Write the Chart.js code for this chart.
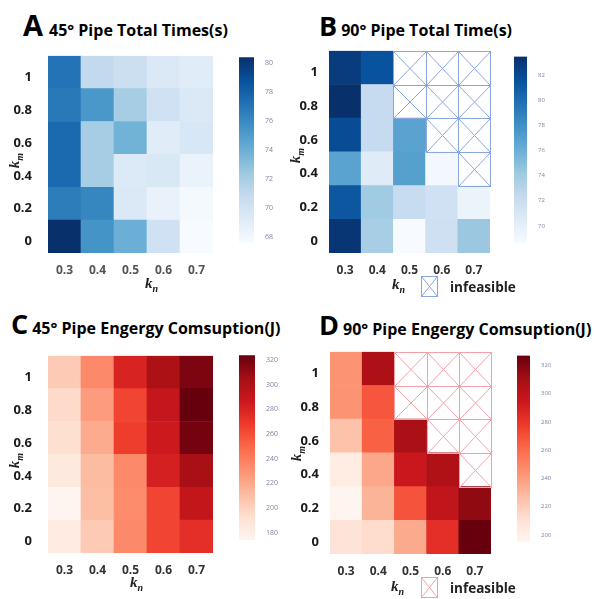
<!DOCTYPE html>
<html>
<head>
<meta charset="utf-8">
<script src="https://cdn.jsdelivr.net/npm/chart.js@4.4.0/dist/chart.umd.min.js"></script>
<style>
  body { margin: 0; background: #fff; width: 595px; height: 599px; position: relative; overflow: hidden; font-family: "Open Sans", sans-serif; }
  canvas, .t, .ax, .leg { position: absolute; }
  .t { font-weight: bold; color: #000; white-space: nowrap; line-height: 1; }
  .t .big { font-size: 27px; }
  .t .sm { font-size: 16px; margin-left: 4px; }
  .ax { font-family: "Liberation Serif", serif; font-style: italic; font-weight: bold; font-size: 15px; color: #222; white-space: nowrap; }
  .ax sub { font-size: 10px; }
  .rot { transform: rotate(-90deg); transform-origin: center; }
  .leg { font-weight: bold; font-size: 13.5px; color: #222; display: flex; align-items: center; white-space: nowrap; }
  .leg svg { margin-right: 12px; }
</style>
</head>
<body>

<div class="t" style="left:23px;top:10px"><span class="big" style="font-size:29px">A</span><span class="sm" style="margin-left:6px">45° Pipe Total Times(s)</span></div>
<div class="t" style="left:319px;top:12px"><span class="big">B</span><span class="sm">90° Pipe Total Time(s)</span></div>
<div class="t" style="left:11px;top:310px"><span class="big">C</span><span class="sm">45° Pipe Engergy Comsuption(J)</span></div>
<div class="t" style="left:319px;top:311px"><span class="big">D</span><span class="sm">90° Pipe Engergy Comsuption(J)</span></div>

<canvas id="heatA" width="215" height="240" style="left:0;top:40px"></canvas>
<canvas id="barA" width="40" height="200" style="left:239px;top:50px"></canvas>
<canvas id="heatB" width="211" height="240" style="left:281px;top:40px"></canvas>
<canvas id="barB" width="36" height="200" style="left:514px;top:50px"></canvas>
<canvas id="heatC" width="215" height="240" style="left:0;top:340px"></canvas>
<canvas id="barC" width="40" height="200" style="left:239px;top:348px"></canvas>
<canvas id="heatD" width="211" height="240" style="left:282px;top:341px"></canvas>
<canvas id="barD" width="36" height="200" style="left:517px;top:349px"></canvas>

<div class="ax rot" style="left:8px;top:151px"><i>k</i><sub>m</sub></div>
<div class="ax rot" style="left:289px;top:146px"><i>k</i><sub>m</sub></div>
<div class="ax rot" style="left:8px;top:451px"><i>k</i><sub>m</sub></div>
<div class="ax rot" style="left:290px;top:444px"><i>k</i><sub>m</sub></div>

<div class="ax" style="left:145px;top:275px"><i>k</i><sub>n</sub></div>
<div class="ax" style="left:130px;top:574px"><i>k</i><sub>n</sub></div>
<div class="ax" style="left:392px;top:276px"><i>k</i><sub>n</sub></div>
<div class="ax" style="left:391px;top:578px"><i>k</i><sub>n</sub></div>

<div class="leg" style="left:421px;top:276px">
  <svg width="17" height="21"><g stroke="#8aa6e0" stroke-width="1" fill="none"><rect x="0.5" y="0.5" width="16" height="20"/><line x1="0.5" y1="0.5" x2="16.5" y2="20.5"/><line x1="16.5" y1="0.5" x2="0.5" y2="20.5"/></g></svg>infeasible
</div>
<div class="leg" style="left:421px;top:577px">
  <svg width="17" height="21"><g stroke="#f4a0a8" stroke-width="1" fill="none"><rect x="0.5" y="0.5" width="16" height="20"/><line x1="0.5" y1="0.5" x2="16.5" y2="20.5"/><line x1="16.5" y1="0.5" x2="0.5" y2="20.5"/></g></svg>infeasible
</div>

<script>
// grid values
const kn = [0.3, 0.4, 0.5, 0.6, 0.7];
const km = [0, 0.2, 0.4, 0.6, 0.8, 1];

// rows follow km (0 at the bottom), columns follow kn; null = infeasible
const timeA = [
  [80.4, 75.5, 74.0, 70.2, 67.6],
  [76.6, 76.2, 69.4, 68.5, 67.8],
  [77.6, 72.1, 69.3, 69.5, 68.4],
  [77.6, 72.1, 73.8, 69.1, 69.6],
  [76.8, 75.3, 72.1, 70.2, 69.4],
  [77.1, 70.9, 70.4, 69.4, 69.1]
];
const timeB = [
  [83.2, 73.7, 68.6, 71.7, 74.3],
  [81.3, 74.1, 72.2, 71.6, 69.5],
  [76.8, 70.4, 77.0, 69.0, null],
  [81.9, 72.3, 76.8, null, null],
  [83.5, 72.3, null, null, null],
  [82.8, 81.6, null, null, null]
];
const energyC = [
  [183, 204, 234, 264, 274],
  [174, 210, 233, 264, 291],
  [185, 211, 234, 282, 304],
  [193, 219, 267, 286, 320],
  [196, 226, 264, 290, 324],
  [204, 234, 280, 302, 318]
];
const energyD = [
  [208, 213, 235, 283, 327],
  [195, 231, 269, 299, 316],
  [202, 236, 295, 306, null],
  [225, 264, 308, null, null],
  [244, 268, null, null, null],
  [244, 307, null, null, null]
];

// colorbar tick labels
const ticksA = [68, 70, 72, 74, 76, 78, 80];
const ticksB = [70, 72, 74, 76, 78, 80, 82];
const ticksC = [180, 200, 220, 240, 260, 280, 300, 320];
const ticksD = [200, 220, 240, 260, 280, 300, 320];

const blues = ['#f7fbff', '#deebf7', '#c6dbef', '#9ecae1', '#6baed6', '#4292c6', '#2171b5', '#08519c', '#08306b'];
const reds = ['#fff5f0', '#fee0d2', '#fcbba1', '#fc9272', '#fb6a4a', '#ef3b2c', '#cb181d', '#a50f15', '#67000d'];

Chart.defaults.font.family = '"Open Sans", sans-serif';
Chart.defaults.animation = false;
Chart.defaults.plugins.legend.display = false;
Chart.defaults.plugins.tooltip.enabled = false;

function hexRgb(h) {
  return [1, 3, 5].map(i => parseInt(h.slice(i, i + 2), 16));
}
function cmap(stops, t) {
  t = Math.max(0, Math.min(1, t));
  const n = stops.length - 1;
  const i = Math.min(Math.floor(t * n), n - 1);
  const f = t * n - i;
  const a = hexRgb(stops[i]), b = hexRgb(stops[i + 1]);
  return 'rgb(' + a.map((v, k) => Math.round(v + (b[k] - v) * f)).join(',') + ')';
}
function range(values) {
  const flat = values.flat().filter(v => v !== null);
  return [Math.min(...flat), Math.max(...flat)];
}

// draws the crossed boxes of infeasible cells
const crosses = {
  id: 'crosses',
  afterDatasetsDraw(chart, args, opts) {
    const ctx = chart.ctx;
    ctx.save();
    ctx.strokeStyle = opts.color || '#888';
    ctx.lineWidth = 1;
    chart.data.datasets.forEach((ds, i) => {
      chart.getDatasetMeta(i).data.forEach((bar, j) => {
        if (ds.values[j] !== null) return;
        const p = bar.getProps(['x', 'y', 'base', 'width'], true);
        const l = Math.round(p.x - p.width / 2) + 0.5, r = Math.round(p.x + p.width / 2) + 0.5;
        const t = Math.round(Math.min(p.y, p.base)) + 0.5, b = Math.round(Math.max(p.y, p.base)) + 0.5;
        ctx.strokeRect(l, t, r - l, b - t);
        ctx.beginPath();
        ctx.moveTo(l, t); ctx.lineTo(r, b);
        ctx.moveTo(r, t); ctx.lineTo(l, b);
        ctx.stroke();
      });
    });
    ctx.restore();
  }
};

function heatmap(id, values, stops, lineColor, tickPad, xColor) {
  const [lo, hi] = range(values);
  new Chart(document.getElementById(id), {
    type: 'bar',
    data: {
      labels: kn.map(String),
      datasets: values.map((row, i) => ({
        values: row,
        data: row.map(() => [km[i] - 0.1, km[i] + 0.1]),
        backgroundColor: row.map(v => v === null ? 'rgba(0,0,0,0)' : cmap(stops, (v - lo) / (hi - lo))),
        borderWidth: 0,
        grouped: false,
        barPercentage: 1,
        categoryPercentage: 1
      }))
    },
    options: {
      responsive: false,
      layout: { padding: { top: 9, right: 2 } },
      plugins: { crosses: { color: lineColor } },
      scales: {
        x: {
          grid: { display: false }, border: { display: false },
          ticks: { color: xColor, font: { size: 12, weight: 'bold' }, padding: 2, maxRotation: 0 },
          afterFit: s => { s.height = 27; }
        },
        y: {
          type: 'linear', min: -0.1, max: 1.1,
          grid: { display: false }, border: { display: false },
          afterBuildTicks: s => { s.ticks = km.map(v => ({ value: v })); },
          ticks: { color: '#1a1a1a', font: { size: 13, weight: 'bold' }, padding: tickPad, labelOffset: 5,
                   callback: v => String(+v.toFixed(1)) },
          afterFit: s => { s.width = 48; }
        }
      }
    },
    plugins: [crosses]
  });
}

function colorbar(id, values, stops, ticks, pad, axisW, fontSize) {
  const [lo, hi] = range(values);
  new Chart(document.getElementById(id), {
    type: 'bar',
    data: {
      labels: [''],
      datasets: [{
        data: [[lo, hi]],
        borderWidth: 0,
        barPercentage: 1,
        categoryPercentage: 1,
        backgroundColor: c => {
          const a = c.chart.chartArea;
          if (!a) return 'rgba(0,0,0,0)';
          const g = c.chart.ctx.createLinearGradient(0, a.bottom, 0, a.top);
          stops.forEach((s, k) => g.addColorStop(k / (stops.length - 1), s));
          return g;
        }
      }]
    },
    options: {
      responsive: false,
      layout: { padding: pad },
      scales: {
        x: { display: false },
        y: {
          position: 'right', min: lo, max: hi,
          grid: { display: false }, border: { display: false },
          afterBuildTicks: s => { s.ticks = ticks.map(v => ({ value: v })); },
          ticks: { color: '#7d87a3', font: { size: fontSize }, padding: 3 },
          afterFit: s => { s.width = axisW; }
        }
      }
    }
  });
}

heatmap('heatA', timeA, blues, '#8aa6e0', 8, '#555');
heatmap('heatB', timeB, blues, '#8aa6e0', 3, '#333');
heatmap('heatC', energyC, reds, '#f4a0a8', 8, '#333');
heatmap('heatD', energyD, reds, '#f4a0a8', 3, '#333');

colorbar('barA', timeA, blues, ticksA, { top: 4, bottom: 7 }, 25, 7);
colorbar('barB', timeB, blues, ticksB, { top: 4, bottom: 5 }, 23, 6);
colorbar('barC', energyC, reds, ticksC, { top: 4, bottom: 8 }, 24, 7);
colorbar('barD', energyD, reds, ticksD, { top: 4, bottom: 7 }, 23, 6);
</script>
</body>
</html>
